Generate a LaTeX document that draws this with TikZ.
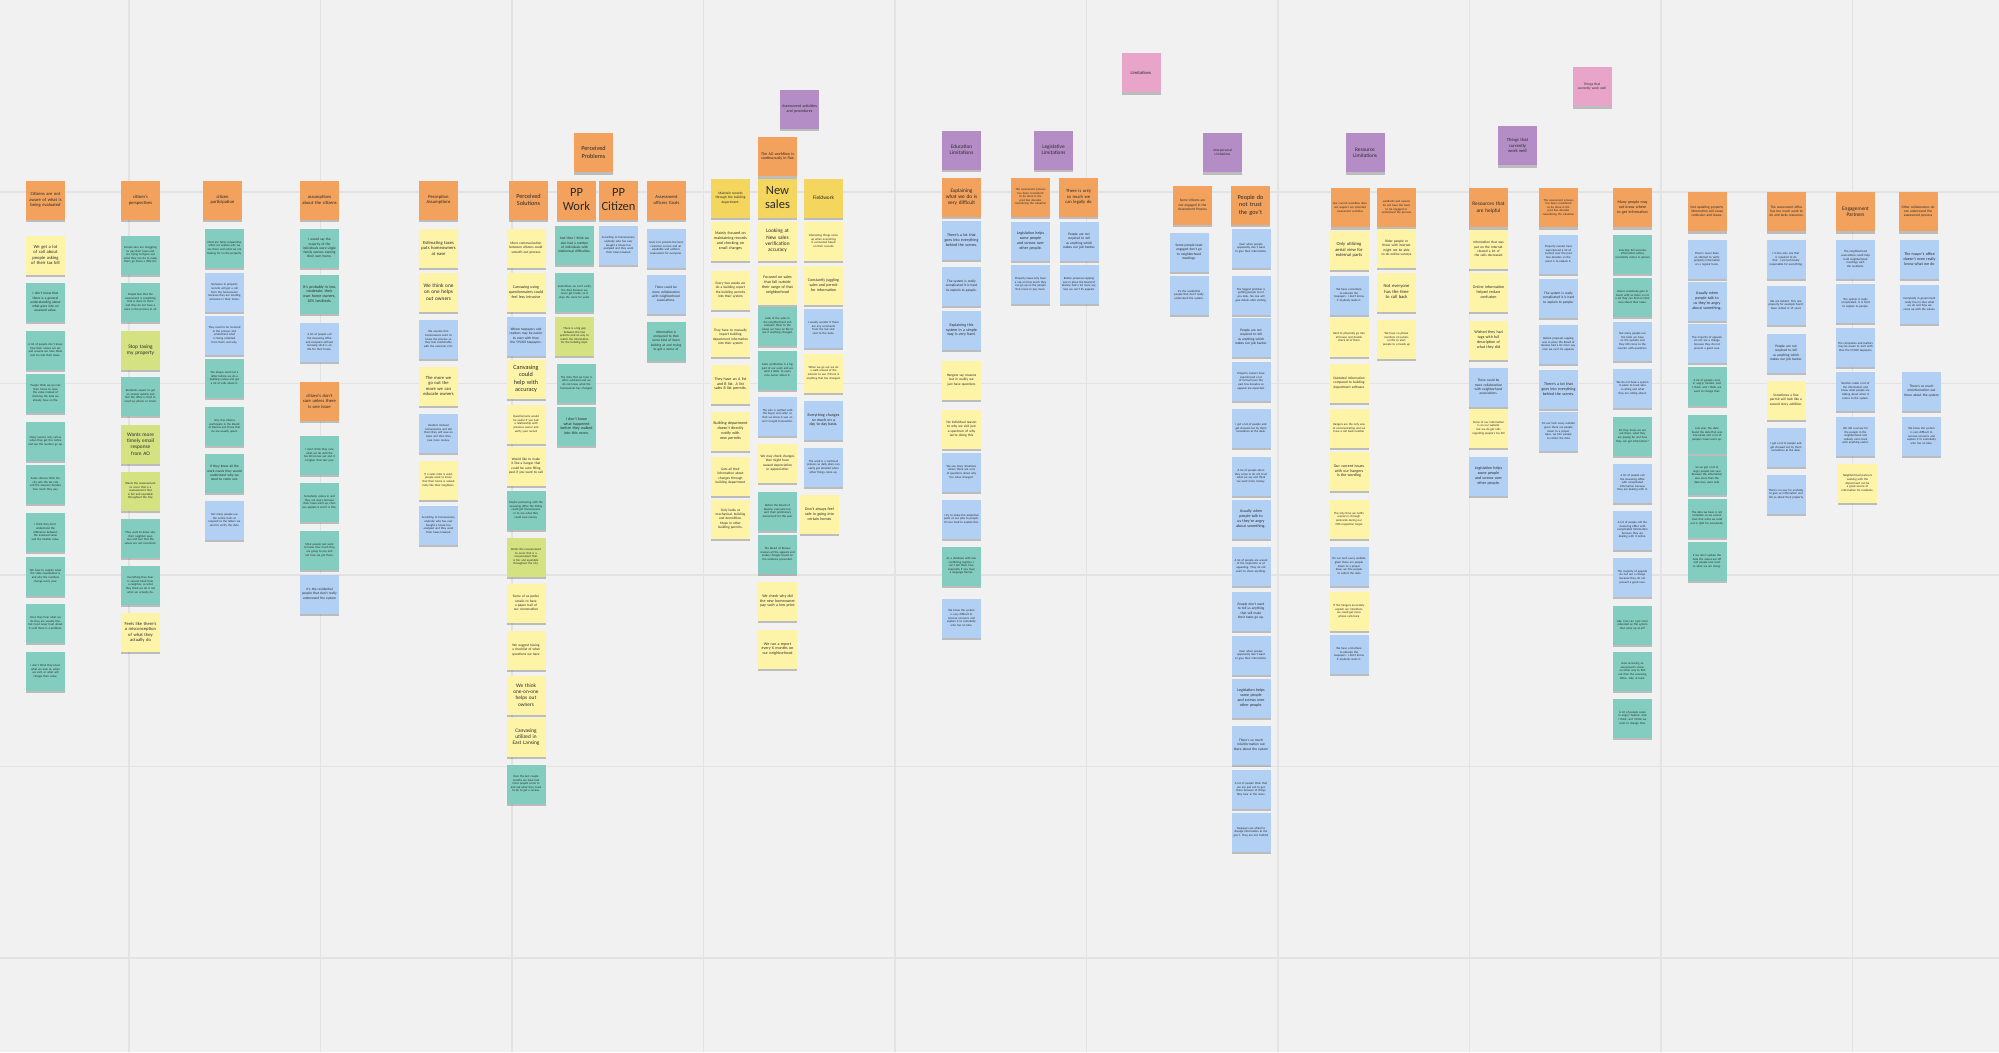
\documentclass[tikz,border=0pt]{standalone}
\usepackage{fontspec}
\setmainfont{Carlito}
\usetikzlibrary{shadows}
\definecolor{bgc}{HTML}{F1F1F1}
\definecolor{gridc}{HTML}{E3E3E3}
\definecolor{cor}{HTML}{F2A25C}
\definecolor{cye}{HTML}{FEF4A8}
\definecolor{cte}{HTML}{82CDC0}
\definecolor{cbl}{HTML}{B2D0F4}
\definecolor{cli}{HTML}{D5E281}
\definecolor{cpu}{HTML}{B48DC6}
\definecolor{cpk}{HTML}{E9A4CA}
\definecolor{cgo}{HTML}{F4D55E}
\definecolor{ctx}{HTML}{2A2A2A}
\begin{document}
\begin{tikzpicture}[x=1pt,y=-1pt,
 sn/.style={minimum width=39pt,minimum height=39pt,inner sep=0.5pt,text width=35pt,align=center,text=ctx,
   execute at begin node={\hyphenpenalty=10000\exhyphenpenalty=10000},
   drop shadow={shadow xshift=0pt,shadow yshift=-2.5pt,opacity=0.22,fill=black}},
 nOr/.style={sn,fill=cor},
 nYe/.style={sn,fill=cye},
 nTe/.style={sn,fill=cte},
 nBl/.style={sn,fill=cbl},
 nLi/.style={sn,fill=cli},
 nPu/.style={sn,fill=cpu},
 nPk/.style={sn,fill=cpk},
 nGo/.style={sn,fill=cgo},
 fA/.style={font=\fontsize{3.0}{3.6}\selectfont},
 fB/.style={font=\fontsize{3.5}{4.2}\selectfont},
 fC/.style={font=\fontsize{4}{4.8}\selectfont},
 fD/.style={font=\fontsize{4.6}{5.5}\selectfont},
 fE/.style={font=\fontsize{5.3}{6.3}\selectfont},
 fF/.style={font=\fontsize{6.2}{7.4}\selectfont},
 fH/.style={font=\fontsize{12.5}{14}\selectfont},
 gl/.style={draw=gridc,line width=1.3pt}]
\useasboundingbox (0,0) rectangle (1999,1052);
\fill[bgc] (0,0) rectangle (1999,1052);
\foreach \gx in {129,320.5,512,703.5,895,1086.5,1278,1469.5,1661,1852.5}
  \draw[gl] (\gx,0) -- (\gx,1052);
\foreach \gy in {192,383.5,575,766.5,958}
  \draw[gl] (0,\gy) -- (1999,\gy);

% ---------- column 1
\node[nOr,fD] (a0) at (45.5,200) {Citizens are not aware of what is being evaluated};
\node[nYe,fD] (a1) at (45.5,255) {We get a lot of call about people asking of their tax bill};
\node[nTe,fB] (a2) at (45.5,302) {I don't know that there is a general understanding about what goes into an assessed value.};
\node[nTe,fA] (a3) at (45.5,350) {A lot of people don't know how their values are set and assume we raise them just to raise their taxes.};
\node[nTe,fA] (a4) at (45.5,393) {People think we go into their home to raise the value instead of checking the data we already have on file.};
\node[nTe,fA] (a5) at (45.5,441) {Many owners only call us when they get the notice and see the number go up.};
\node[nTe,fA] (a6) at (45.5,484) {Some citizens think the city sets the tax rate and the assessor decides how much they pay.};
\node[nTe,fA] (a7) at (45.5,532) {I think they don't understand the difference between the assessed value and the taxable value.};
\node[nTe,fA] (a8) at (45.5,576) {We have to explain what the state equalization is and why the numbers change every year.};
\node[nTe,fA] (a9) at (45.5,623) {Once they hear what we do they are usually fine, but most never hear about it until there is a problem.};
\node[nTe,fA] (a10) at (45.5,671) {I don't think they know what we look at, when we visit, or what will change their value.};

% ---------- column 2
\node[nOr,fD] (b0) at (140.5,200) {citizen's perspectives};
\node[nTe,fA] (b1) at (140.5,255) {People who are struggling to pay their taxes and are trying to figure out what they can do to make them go down a little bit.};
\node[nTe,fA] (b2) at (140.5,302) {People feel that the assessment is something that is done to them and they do not have a voice in the process at all.};
\node[nLi,fE] (b3) at (140.5,350) {Stop taxing my property};
\node[nTe,fA] (b4) at (140.5,396) {Residents expect to get an answer quickly and feel the office is hard to reach by phone or email.};
\node[nLi,fE] (b5) at (140.5,444) {Wants more timely email response from AO};
\node[nLi,fA] (b6) at (140.5,491) {Wants the reassessment to occur that is a reassessment that is fair and equitable throughout the City.};
\node[nTe,fA] (b7) at (140.5,538) {They want to know why their neighbor pays less and feel that the values are not consistent.};
\node[nTe,fA] (b8) at (140.5,585) {Everything they hear is second hand from a neighbor, so what they think we do is not what we actually do.};
\node[nYe,fD] (b9) at (140.5,632) {Feels like there's a misconception of what they actually do};

% ---------- column 3
\node[nOr,fD] (c0) at (222.5,200) {citizen participation};
\node[nTe,fA] (c1) at (224.5,248) {Most are fairly cooperative when we explain why we are there and what we are looking for on the property.};
\node[nBl,fA] (c2) at (224.5,292) {Someone in property records will get a call from the homeowner because they are locating someone in their home.};
\node[nBl,fA] (c3) at (224.5,335) {They need to be involved in the process and understand what is being collected from them and why.};
\node[nTe,fA] (c4) at (224.5,378) {We always send out a letter before we do a building review and get a lot of calls about it.};
\node[nTe,fA] (c5) at (224.5,426) {Very few citizens participate in the Board of Review and those that do are usually upset.};
\node[nTe,fB] (c6) at (224.5,473) {If they knew all the work needs they would understand why we need to come out.};
\node[nBl,fA] (c7) at (224.5,520) {Not many people use the online tools or respond to the letters we send to verify the data.};

% ---------- column 4
\node[nOr,fD] (d0) at (319.5,200) {assumptions about the citizens};
\node[nTe,fB] (d1) at (319.5,248) {I would say the majority of the individuals were single family owners owning their own home.};
\node[nTe,fC] (d2) at (319.5,294) {It's probably in low, moderate, their own home owners, 10\% landlords.};
\node[nBl,fA] (d3) at (319.5,342) {A lot of people call the Assessing office and complain without knowing what is on file for their home.};
\node[nOr,fD] (d4) at (319.5,401) {citizen's don't care unless there is one issue};
\node[nTe,fA] (d5) at (319.5,455) {I don't think they care what we do until the tax bill comes out and it is higher than last year.};
\node[nTe,fA] (d6) at (319.5,502) {Somebody comes in and they are angry because their taxes went up, then you explain it and it is fine.};
\node[nTe,fA] (d7) at (319.5,550) {Most people just want to know how much they are going to pay and not how we got there.};
\node[nBl,fB] (d8) at (319.5,594) {It's the residential people that don't really understand the system};

% ---------- column 5
\node[nOr,fD] (e0) at (438.5,200) {Perception Assumptions};
\node[nYe,fD] (e1) at (438.5,248) {Estimating taxes puts homeowners at ease};
\node[nYe,fE] (e2) at (438.5,292) {We think one on one helps out owners};
\node[nBl,fA] (e3) at (438.5,339) {We assume that homeowners want to know the process so they feel comfortable with the outcome of it.};
\node[nYe,fD] (e4) at (438.5,386) {The more we go out the more we can educate owners};
\node[nBl,fA] (e5) at (438.5,433) {Realtors mislead homeowners and tell them they will save on taxes and then they owe more money.};
\node[nYe,fA] (e6) at (438.5,480) {If a sales ratio is used, people want to know that their home is valued fairly like their neighbors.};
\node[nBl,fA] (e7) at (438.5,525) {According to homeowners, anybody who has ever bought a house has analyzed and they want their taxes lowered};

% ---------- column 6
\node[nOr,fF] (f0) at (528.5,200) {Perceived Solutions};
\node[nYe,fB] (f1) at (526,248) {More communication between citizens could smooth out process};
\node[nYe,fC] (f2) at (526,292) {Canvasing using questionnaires could feel less intrusive};
\node[nBl,fB] (f3) at (526,336) {Where taxpayers and realtors may be easier to start with than the 59,000 taxpayers.};
\node[nYe,fF] (f4) at (526,379) {Canvasing could help with accuracy};
\node[nYe,fA] (f5) at (526,424) {Questionnaire would be useful if you had a relationship with previous owner and verify your record};
\node[nYe,fB] (f6) at (526,466) {Would like to make it like a hangar that could be auto filling past if you want to call};
\node[nTe,fA] (f7) at (526,510) {Maybe partnering with the assessing office the Friday could get homeowners in to see what they could save money.};
\node[nLi,fA] (f8) at (526,557) {Wants the reassessment to occur that is a reassessment that is fair and equitable throughout the City.};
\node[nYe,fB] (f9) at (526,603) {Some of us prefer emails to have a paper trail of our conversation};
\node[nYe,fB] (f10) at (526,650) {We suggest having a checklist of what questions we have};
\node[nYe,fE] (f11) at (526,695) {We think one-on-one helps out owners};
\node[nYe,fE] (f12) at (526,737) {Canvasing utilized in East Lansing};
\node[nTe,fA] (f13) at (526,784) {Over the last couple months we have had more people come in and ask what they need to do to get a review.};

% ---------- perceived problems
\node[nOr,fF] (g0) at (593.5,152.5) {Perceived Problems};
\node[nOr,fH] (g1) at (576.5,200) {PP Work};
\node[nOr,fH] (g2) at (618.5,200) {PP Citizen};
\node[nOr,fD] (g3) at (666.5,200) {Assessment officers Goals};
\node[nTe,fB] (g4) at (574.5,245) {And then I think we also had a number of individuals with intellectual difficulties.};
\node[nTe,fA] (g5) at (574.5,292) {Sometimes we can't verify the data because we never get inside, so it stays the same for years.};
\node[nLi,fA] (g6) at (574.5,336) {There is a big gap between the two systems and no way to match the information for the building dept.};
\node[nTe,fA] (g7) at (576.5,383) {The data that we have is often outdated and we do not know what the homeowner has changed.};
\node[nTe,fC] (g8) at (576.5,426) {I don't know what happened before they walked into this room.};
\node[nBl,fA] (g9) at (618.5,245) {According to homeowners, anybody who has ever bought a house has analyzed and they want their taxes lowered};
\node[nBl,fA] (g10) at (666,248) {Goal is to provide the best customer service and an equitable and uniform assessment for everyone.};
\node[nBl,fB] (g11) at (666,294) {There could be more collaboration with neighborhood associations.};
\node[nTe,fB] (g12) at (666,341) {Information is compared to that some kind of been looking at and trying to get a sense of};

% ---------- assessment activities
\node[nPu,fC] (h0) at (799.5,109) {Assessment activities and procedures};
\node[nOr,fC] (h1) at (777.5,156.5) {The AO workflow is continuously in flux};
\node[nGo,fB] (h2) at (730.5,198) {Maintain records through the building department.};
\node[nGo,fH] (h3) at (777.5,198) {New sales};
\node[nGo,fE] (h4) at (823.5,198) {Fieldwork};
\node[nYe,fC] (h5) at (730.5,241) {Mainly focused on maintaining records and checking on small changes};
\node[nYe,fB] (h6) at (730.5,290) {Every two weeks we do a building report the building permits into their system};
\node[nYe,fB] (h7) at (730.5,337) {They have to manually import building department information into their system};
\node[nYe,fC] (h8) at (730.5,384) {They have an A list and B list. A list sales B list permits.};
\node[nYe,fC] (h9) at (730.5,431) {Building department doesn't directly notify with new permits};
\node[nYe,fB] (h10) at (730.5,476) {Gets all their information about changes through building department};
\node[nYe,fB] (h11) at (730.5,519) {Only looks at mechanical, building and demolition. Maps in other building permits.};
\node[nYe,fE] (h12) at (777.5,241) {Looking at New sales verification accuracy};
\node[nYe,fC] (h13) at (777.5,285) {Focused on sales that fall outside their range of that neighborhood};
\node[nTe,fA] (h14) at (777.5,326) {Look at the sales in the neighborhood and compare them to the values we have on file to see if anything changed.};
\node[nTe,fA] (h15) at (777.5,370) {Sales verification is a big part of our work and we send a letter to every new owner about it.};
\node[nBl,fA] (h16) at (777.5,416) {The sale is verified with the buyer and seller so that we know it was an arm's length transaction.};
\node[nYe,fB] (h17) at (777.5,463) {We may check changes that might have caused depreciation or appreciation};
\node[nTe,fA] (h18) at (777.5,511) {Before the Board of Review, everyone has sent their preliminary assessment for the year};
\node[nTe,fA] (h19) at (777.5,554) {The Board of Review reviews all the appeals and makes changes based on the evidence presented.};
\node[nYe,fC] (h20) at (777.5,601) {We check why did the new homeowner pay such a low price};
\node[nYe,fC] (h21) at (777.5,649) {We run a report every X months on our neighborhood};
\node[nYe,fA] (h22) at (823.5,241) {Interesting things come up when everything is connected based on their records};
\node[nYe,fC] (h23) at (823.5,285) {Constantly juggling sales and permit for information};
\node[nBl,fA] (h24) at (823.5,328) {I usually wonder if there are any comments from the last visit sent to the state.};
\node[nYe,fA] (h25) at (823.5,373) {When we go out we do a walk around of the exterior to see if there is anything that has changed.};
\node[nBl,fC] (h26) at (823.5,420) {Everything changes so much on a day to day basis.};
\node[nBl,fA] (h27) at (823.5,467) {The work is a continual process so daily plans can easily get derailed when other things come up.};
\node[nYe,fC] (h28) at (819.5,514) {Don't always feel safe in going into certain homes};

% ---------- education limitations
\node[nPu,fE] (i0) at (961.5,150) {Education Limitations};
\node[nOr,fE] (i1) at (961.5,197) {Explaining what we do is very difficult};
\node[nBl,fC] (i2) at (961.5,240) {There's a lot that goes into everything behind the scenes.};
\node[nBl,fB] (i3) at (961.5,286) {The system is really complicated it is hard to explain to people.};
\node[nBl,fC] (i4) at (961.5,330) {Explaining this system in a simple way is very hard.};
\node[nYe,fB] (i5) at (961.5,380) {Hangers say reasons but in reality we just have questions};
\node[nYe,fB] (i6) at (961.5,429) {No individual reason to why we visit just a spectrum of why we're doing this};
\node[nBl,fA] (i7) at (961.5,472) {We see many situations where there are a lot of questions about why the value changed.};
\node[nBl,fA] (i8) at (961.5,519) {I try to make the subjective parts of our jobs to people. It's too hard to explain this.};
\node[nTe,fA] (i9) at (961.5,566) {As a database with two conflicting regimes, I can't tell them how, especially if you have a language barrier.};
\node[nBl,fA] (i10) at (961.5,618) {We know the system is very difficult to remove concerns and explain it to somebody who has no idea.};

% ---------- legislative limitations
\node[nPu,fE] (j0) at (1053.5,150) {Legislative Limitations};
\node[nOr,fA] (j1) at (1030.5,197) {The assessment process has been considered to be done in the past few decades considering the valuation};
\node[nOr,fD] (j2) at (1078.5,197) {There is only so much we can legally do};
\node[nBl,fC] (j3) at (1030.5,241) {Legislation helps some people and screws over other people.};
\node[nBl,fA] (j4) at (1030.5,284) {Property taxes only have a cap on how much they can go up so the people that move in pay more.};
\node[nBl,fB] (j5) at (1079,241) {People are not required to tell us anything which makes our job harder.};
\node[nBl,fA] (j6) at (1079,284) {Before proposal capping was in place the Board of Review had a lot more say, now we can't fix appeals.};

% ---------- limitations
\node[nPk,fD] (k0) at (1141,72.5) {Limitations};

% ---------- interpersonal limitations
\node[nPu,fB] (l0) at (1222.5,152.5) {Interpersonal Limitations};
\node[nOr,fB] (l1) at (1192.5,205) {Some citizens are not engaged in the Assessment Process};
\node[nOr,fF] (l2) at (1250.5,205) {People do not trust the gov't};
\node[nBl,fB] (l3) at (1189,252) {Some people least engaged don't go to neighborhood meetings.};
\node[nBl,fA] (l4) at (1189,295) {It's the residential people that don't really understand the system.};
\node[nBl,fA] (l5) at (1251,248) {Even when people apparently don't want to give their information.};
\node[nBl,fA] (l6) at (1251,295) {The biggest problem is getting people to let you look. No one will give details after visiting.};
\node[nBl,fB] (l7) at (1251,337) {People are not required to tell us anything which makes our job harder.};
\node[nBl,fA] (l8) at (1251,381) {Property owners have experienced a lot of turmoil over the past few decades so appeals are expected.};
\node[nBl,fA] (l9) at (1251,428) {I get a lot of people and get chewed out by them sometimes at the desk.};
\node[nBl,fA] (l10) at (1251,476) {A lot of people when they come in do not trust what we say and think we want more money.};
\node[nBl,fC] (l11) at (1251,519) {Usually when people talk to us they're angry about something.};
\node[nBl,fA] (l12) at (1251,566) {A lot of people are scared of the inspection or of appealing. They do not want to share anything.};
\node[nBl,fB] (l13) at (1251,611) {People don't want to tell us anything that will make their taxes go up.};
\node[nBl,fA] (l14) at (1251,655) {Even when people apparently don't want to give their information.};
\node[nBl,fC] (l15) at (1251,698) {Legislation helps some people and screws over other people.};
\node[nBl,fB] (l16) at (1251,745) {There's so much misinformation out there about the system};
\node[nBl,fA] (l17) at (1251,789) {A lot of people think that we are just out to get them because of things they hear in the news.};
\node[nBl,fA] (l18) at (1251,832) {Taxpayers are afraid to divulge information to the gov't. They are not truthful};

% ---------- resource limitations
\node[nPu,fE] (m0) at (1365,152.5) {Resource Limitations};
\node[nOr,fA] (m1) at (1350,207.5) {Our current workflow does not support our intended assessment activities};
\node[nOr,fA] (m2) at (1396.5,207.5) {Landlords and owners do not have the tools to be engaged or understand the process};
\node[nYe,fD] (m3) at (1349,250) {Only utilizing aerial view for external parts};
\node[nBl,fA] (m4) at (1349,295) {We have a brochure to educate the taxpayers. I don't know if anybody reads it.};
\node[nYe,fA] (m5) at (1349,337) {Hard to physically go into all house and double check all of them};
\node[nYe,fB] (m6) at (1349,383) {Outdated information compared to building department software};
\node[nYe,fA] (m7) at (1349,428) {Hangers are the only way of communicating and we have a call back number};
\node[nYe,fC] (m8) at (1349,471) {Our current issues with our hangers is the wording};
\node[nYe,fA] (m9) at (1349,519) {The only time we notify owners is through postcards during our 20\% inspection target};
\node[nBl,fA] (m10) at (1349,566) {On our tech savvy website given there are people down to a proper base, we hire people to collect the data};
\node[nYe,fA] (m11) at (1349,611) {If the hangers accurately explain our intentions we could get more phone calls back};
\node[nBl,fA] (m12) at (1349,654) {We have a brochure to educate the taxpayers. I don't know if anybody reads it.};
\node[nYe,fB] (m13) at (1396.5,248) {Older people or those with internet might not be able to do online surveys};
\node[nYe,fD] (m14) at (1396.5,292) {Not everyone has the time to call back};
\node[nYe,fA] (m15) at (1396.5,339) {We have no phone numbers of owners on file to alert people to a heads up};

% ---------- things that currently work well
\node[nPk,fB] (n0) at (1592,86.5) {Things that currently work well};
\node[nPu,fD] (n1) at (1517.5,145.5) {Things that currently work well};
\node[nOr,fE] (n2) at (1488.5,207.5) {Resources that are helpful};
\node[nYe,fB] (n3) at (1488.5,249) {Information that was put on the Internet cleared a lot of the calls decreased};
\node[nYe,fC] (n4) at (1488.5,292) {Online information helped reduce confusion};
\node[nYe,fC] (n5) at (1488.5,340) {Wished they had tags with full description of what they did};
\node[nBl,fB] (n6) at (1488.5,387) {There could be more collaboration with neighborhood associations.};
\node[nYe,fA] (n7) at (1488.5,428) {Some of our information is on our website but we do get calls regarding people's tax bill};
\node[nBl,fC] (n8) at (1488.5,476) {Legislation helps some people and screws over other people.};
\node[nOr,fA] (n9) at (1558.5,207.5) {The assessment process has been considered to be done in the past few decades considering the valuation};
\node[nBl,fA] (n10) at (1558.5,254) {Property owners have experienced a lot of turmoil over the past few decades so the point is to explain it.};
\node[nBl,fB] (n11) at (1558.5,298) {The system is really complicated it is hard to explain to people.};
\node[nBl,fA] (n12) at (1558.5,344) {Before proposal capping was in place the Board of Review had a lot more say, now we can't fix appeals.};
\node[nBl,fC] (n13) at (1558.5,389) {There's a lot that goes into everything behind the scenes.};
\node[nBl,fA] (n14) at (1558.5,431) {On our tech savvy website given there are people down to a proper base, we hire people to collect the data};
\node[nOr,fC] (n15) at (1632.5,207.5) {Many people may not know where to get information};
\node[nTe,fA] (n16) at (1632.5,254) {Interplay full accurate information unless somebody comes in person};
\node[nTe,fA] (n17) at (1632.5,297) {Unless somebody gets in touch with us there is not a lot they can find on their own about their taxes.};
\node[nBl,fA] (n18) at (1632.5,341) {Not many people use the tools we have on the website and they still come to the counter with questions.};
\node[nBl,fA] (n19) at (1632.5,388) {We do not have a system in place to track who is calling and what they are calling about.};
\node[nTe,fA] (n20) at (1632.5,436) {Do they know we are out there, what they are paying for and how they can get information?};
\node[nBl,fA] (n21) at (1632.5,483) {A lot of people call the Assessing office with complicated information because they are dealing with it.};
\node[nBl,fA] (n22) at (1632.5,530) {A lot of people call the Assessing office with complicated information because they are dealing with it online.};
\node[nBl,fA] (n23) at (1632.5,577) {The majority of appeals do not see a change because they do not present a good case.};
\node[nTe,fA] (n24) at (1632.5,625) {Like, how can I get more educated on the system that came up at all?};
\node[nTe,fA] (n25) at (1632.5,671) {How accessing an assessment's done, no other way to find out than the assessing office. Like, at least.};
\node[nTe,fA] (n26) at (1632.5,718) {A lot of people come in angry/ heated. And I think, and I think we want to change that.};

% ---------- right side
\node[nOr,fB] (o0) at (1707,211.5) {Not updating property information will cause confusion and issues.};
\node[nBl,fA] (o1) at (1707,259) {There's never been an attempt to verify property information on a regular basis.};
\node[nBl,fC] (o2) at (1707,301) {Usually when people talk to us they're angry about something.};
\node[nBl,fA] (o3) at (1707,343) {The majority of appeals do not see a change because they do not present a good case.};
\node[nTe,fA] (o4) at (1707,386) {A lot of people come in angry/ heated. And I think, and I think, we want to change that.};
\node[nTe,fA] (o5) at (1707,434) {Last year, the state found the data that was inaccurate and a lot of people's taxes went up.};
\node[nTe,fA] (o6) at (1707,475) {So we got a lot of angry people last year because the information was more than the data they were told.};
\node[nTe,fA] (o7) at (1707,518) {The data we have is not complete so we cannot trust that what we send out is right for everybody.};
\node[nTe,fA] (o8) at (1707,561) {If we don't update the data the values are off and people lose trust in what we are doing.};
\node[nOr,fB] (p0) at (1786.5,211.5) {The assessment office has too much work to do and lacks resources.};
\node[nBl,fA] (p1) at (1786,259) {I'm the only one that is required to do that. I am technically responsible for everything.};
\node[nBl,fA] (p2) at (1786,305) {We are behind. This one property for example hasn't been visited in 15 years};
\node[nBl,fB] (p3) at (1786,353) {People are not required to tell us anything which makes our job harder.};
\node[nYe,fB] (p4) at (1786,400) {Sometimes a fine permit will look like a second story addition.};
\node[nBl,fA] (p5) at (1786,447) {I get a lot of people and get chewed out by them sometimes at the desk.};
\node[nBl,fA] (p6) at (1786,494) {There's no way for anybody to give us information and tell us about their property};
\node[nOr,fE] (q0) at (1855.5,211.5) {Engagement Partners};
\node[nBl,fA] (q1) at (1855.5,259) {The neighborhood associations could help hold neighborhood meetings with the residents.};
\node[nBl,fA] (q2) at (1855.5,303) {The system is really complicated. It is hard to explain to people.};
\node[nBl,fA] (q3) at (1855.5,347) {The companies and realtors may be easier to start with than the 59,000 taxpayers.};
\node[nBl,fA] (q4) at (1855.5,391) {Realtors make a lot of the information and know what people are talking about when it comes to the system.};
\node[nBl,fA] (q5) at (1855.5,436) {We did a survey for the people in the neighborhood and nobody came back with anything useful.};
\node[nYe,fA] (q6) at (1857.5,483) {Neighborhood partners working with the department can be a good source of information for residents.};
\node[nOr,fB] (r0) at (1918,211.5) {Other collaborators do not understand the assessment process};
\node[nBl,fC] (r1) at (1919.5,259) {The mayor's office doesn't even really know what we do};
\node[nBl,fA] (r2) at (1919.5,304) {Everybody in government really has no idea what we do and how we come up with the values.};
\node[nBl,fB] (r3) at (1921.5,391) {There's so much misinformation out there about the system};
\node[nBl,fA] (r4) at (1921.5,436) {We know the system is very difficult to remove concerns and explain it to somebody who has no idea.};
\end{tikzpicture}
\end{document}
